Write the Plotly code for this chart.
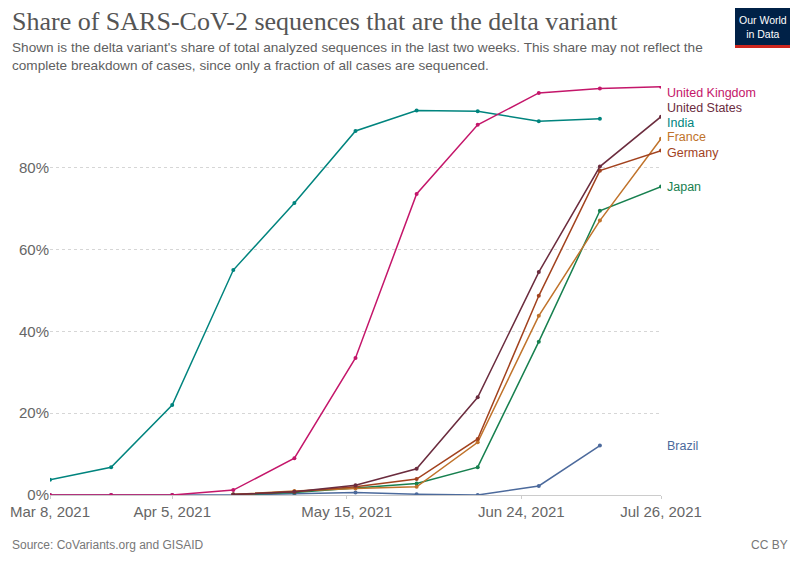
import plotly.graph_objects as go

dates = ["2021-03-08", "2021-03-22", "2021-04-05", "2021-04-19", "2021-05-03", "2021-05-17",
         "2021-05-31", "2021-06-14", "2021-06-28", "2021-07-12", "2021-07-26"]

india = [3.7, 6.8, 22.0, 55.0, 71.4, 89.0, 94.0, 93.8, 91.4, 92.0, None]
uk = [0.0, 0.0, 0.0, 1.2, 9.0, 33.5, 73.6, 90.5, 98.3, 99.4, 99.8]
us = [None, None, None, 0.1, 0.8, 2.4, 6.4, 23.9, 54.5, 80.3, 92.5]
germany = [None, None, None, 0.1, 0.8, 2.0, 3.9, 13.7, 48.7, 79.3, 84.2]
france = [None, None, None, 0.1, 1.0, 1.6, 2.0, 12.9, 43.8, 67.1, 87.1]
japan = [None, None, None, 0.1, 0.6, 1.7, 2.8, 6.8, 37.5, 69.5, 75.4]
brazil = [0.0, 0.0, 0.0, 0.0, 0.3, 0.6, 0.2, 0.0, 2.2, 12.1, None]

tick_dates = ["2021-03-08", "2021-04-05", "2021-05-15", "2021-06-24", "2021-07-26"]
tick_text = ["Mar 8, 2021", "Apr 5, 2021", "May 15, 2021", "Jun 24, 2021", "Jul 26, 2021"]
y_ticks = [0, 20, 40, 60, 80]
y_tick_text = ["0%", "20%", "40%", "60%", "80%"]

# (name, values, colour, label pixel offset to avoid overlaps)
series = [
    ("Brazil", brazil, "#4C6A9C", 0),
    ("Japan", japan, "#17804F", 0),
    ("France", france, "#C0732B", 1.5),
    ("Germany", germany, "#A2421E", -2),
    ("India", india, "#00847E", -4),
    ("United States", us, "#6B2C3E", 9),
    ("United Kingdom", uk, "#C4166A", -6),
]

FONT = "Liberation Sans, Arial, sans-serif"

fig = go.Figure()
for name, vals, color, shift in series:
    fig.add_trace(go.Scatter(x=dates, y=vals, mode="lines+markers", name=name,
                             line=dict(color=color, width=1.5),
                             marker=dict(color=color, size=4),
                             connectgaps=False, showlegend=False))
    last = [v for v in vals if v is not None][-1]
    fig.add_annotation(x=dates[-1], y=last, text=name, showarrow=False,
                       xanchor="left", yanchor="middle", xshift=4, yshift=shift,
                       font=dict(family=FONT, size=12.5, color=color))

# page has an 8px body margin; figure sized to fit the 800x565 window
fig.update_layout(
    width=792, height=557,
    margin=dict(l=42, r=139, t=78, b=70),
    paper_bgcolor="white", plot_bgcolor="white",
    xaxis=dict(type="date", range=["2021-03-08", "2021-07-26"], automargin=False,
               tickvals=tick_dates, ticktext=tick_text,
               showgrid=False, zeroline=False,
               showline=True, linecolor="#cccccc", linewidth=1,
               ticks="outside", ticklen=3, tickcolor="#cccccc",
               tickfont=dict(family=FONT, size=15, color="#666666")),
    yaxis=dict(range=[0, 100], tickvals=y_ticks, ticktext=y_tick_text, automargin=False,
               showgrid=True, gridcolor="#d6d6d6", griddash="3px,3px", gridwidth=1,
               zeroline=False, showline=False, ticks="", ticklen=0,
               tickfont=dict(family=FONT, size=15, color="#666666")),
    font=dict(family=FONT),
)


def px(xp):
    return (xp - 50) / 611


def py(yp):
    return (495 - yp) / 409


fig.add_annotation(xref="paper", yref="paper", x=px(10), y=py(22), xanchor="left", yanchor="middle",
                   text="Share of SARS-CoV-2 sequences that are the delta variant", showarrow=False,
                   font=dict(family="Liberation Serif, Georgia, serif", size=26, color="#555555"))
fig.add_annotation(xref="paper", yref="paper", x=px(10), y=py(56), xanchor="left", yanchor="middle",
                   align="left",
                   text="Shown is the delta variant's share of total analyzed sequences in the last two weeks. This share may not reflect the<br>complete breakdown of cases, since only a fraction of all cases are sequenced.",
                   showarrow=False,
                   font=dict(family=FONT, size=13.6, color="#5f5f5f"))
fig.add_annotation(xref="paper", yref="paper", x=px(10), y=py(545), xanchor="left", yanchor="middle",
                   text="Source: CoVariants.org and GISAID", showarrow=False,
                   font=dict(family=FONT, size=12, color="#777777"))
fig.add_annotation(xref="paper", yref="paper", x=px(790), y=py(545), xanchor="right", yanchor="middle",
                   text="CC BY", showarrow=False,
                   font=dict(family=FONT, size=12, color="#777777"))

# logo
fig.add_shape(type="rect", xref="paper", yref="paper",
              x0=px(735), x1=px(790), y0=py(45), y1=py(8),
              fillcolor="#002147", line=dict(width=0))
fig.add_shape(type="rect", xref="paper", yref="paper",
              x0=px(735), x1=px(790), y0=py(48), y1=py(45),
              fillcolor="#CE261E", line=dict(width=0))
fig.add_annotation(xref="paper", yref="paper", x=px(762.5), y=py(27),
                   xanchor="center", yanchor="middle", showarrow=False,
                   text="Our World<br>in Data", align="center",
                   font=dict(family="Liberation Sans Narrow, Liberation Sans, Arial", size=10.5, color="white"))

fig.write_html("out.html")
